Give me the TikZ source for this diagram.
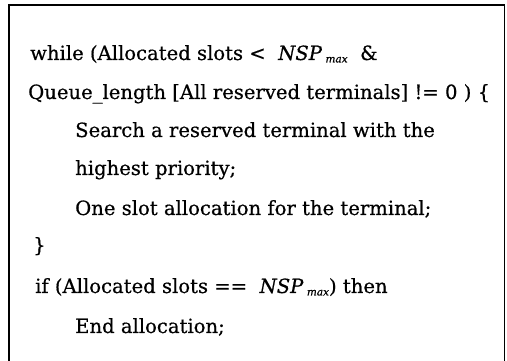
\documentclass[tikz,border=0pt]{standalone}
\usepackage{fontspec}
\setmainfont[FakeBold=0.6]{DejaVu Serif}
\begin{document}
\begin{tikzpicture}[x=1pt,y=1pt,
  codeline/.style={anchor=base west,inner sep=0pt,font=\fontsize{19.6}{22}\selectfont}]
\useasboundingbox (0,0) rectangle (507,361);
% open frame: left, top and right sides
\draw[line width=1.4pt] (9,0) -- (9,356) -- (504.5,356) -- (504.5,0);
\newcommand{\nspmax}{\textit{NSP}\,\raisebox{-2.5pt}{\fontsize{10.5}{10.5}\selectfont\textit{max}}}
\node[codeline] (l1) at (30,301) {while (Allocated slots <\ \ \nspmax\ \ \&};
\node[codeline] (l2) at (28,262) {Queue\_length [All reserved terminals] != 0 ) \{};
\node[codeline] (l3) at (75,224) {Search a reserved terminal with the};
\node[codeline] (l4) at (75,186) {highest priority;};
\node[codeline] (l5) at (75,146) {One slot allocation for the terminal;};
\node[codeline] (l6) at (33,109) {\}};
\node[codeline] (l7) at (35,68) {if (Allocated slots ==\ \ \nspmax) then};
\node[codeline] (l8) at (75,28) {End allocation;};
\end{tikzpicture}
\end{document}
